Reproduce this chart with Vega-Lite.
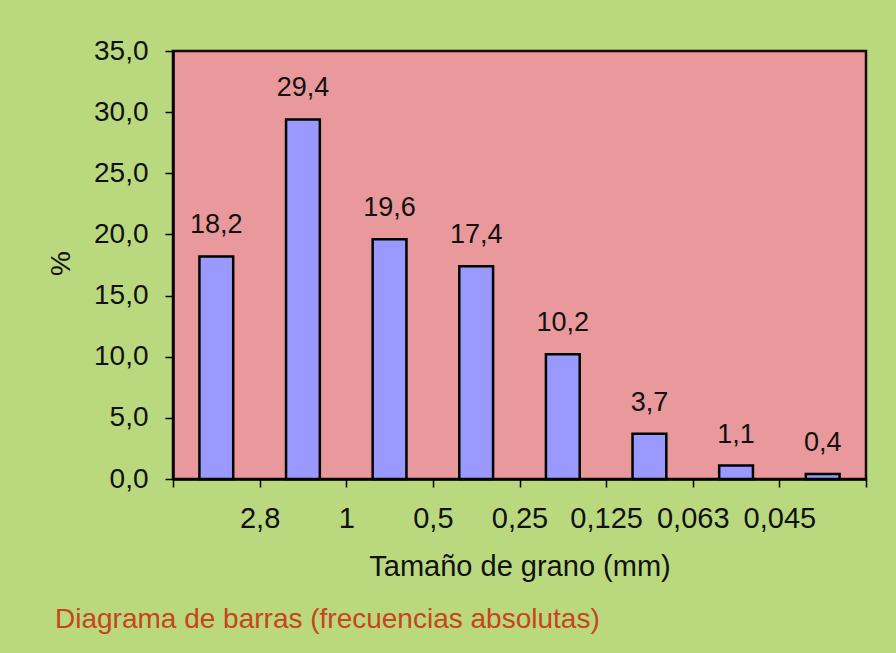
{
  "$schema": "https://vega.github.io/schema/vega-lite/v6.json",
  "width": 693,
  "height": 428,
  "autosize": {"type": "none"},
  "padding": {"left": 173, "top": 51, "right": 30, "bottom": 174},
  "background": "#bad97e",
  "config": {
    "locale": {"number": {"decimal": ",", "thousands": ".", "grouping": [3], "currency": ["", " €"]}},
    "view": {"fill": "#e9999c", "stroke": "#1a0a05", "strokeWidth": 2.5},
    "font": "Liberation Sans"
  },
  "title": {
    "text": "Diagrama de barras (frecuencias absolutas)",
    "orient": "bottom",
    "anchor": "start",
    "frame": "group",
    "dx": -118,
    "offset": 47,
    "fontSize": 28,
    "fontWeight": "normal",
    "color": "#c9441d",
    "baseline": "alphabetic"
  },
  "data": {
    "values": [
      {"tamiz": "2,8", "porcentaje": 18.2},
      {"tamiz": "1", "porcentaje": 29.4},
      {"tamiz": "0,5", "porcentaje": 19.6},
      {"tamiz": "0,25", "porcentaje": 17.4},
      {"tamiz": "0,125", "porcentaje": 10.2},
      {"tamiz": "0,063", "porcentaje": 3.7},
      {"tamiz": "0,045", "porcentaje": 1.1},
      {"tamiz": "<0,045", "porcentaje": 0.4}
    ]
  },
  "encoding": {
    "x": {
      "field": "tamiz",
      "type": "nominal",
      "sort": null,
      "scale": {"paddingInner": 0, "paddingOuter": 0},
      "axis": {
        "title": "Tamaño de grano (mm)",
        "tickBand": "extent",
        "labelOffset": 43.3,
        "labelAngle": 0,
        "labelExpr": "datum.value == '<0,045' ? '' : datum.value",
        "labelFontSize": 29,
        "labelColor": "#111111",
        "labelPadding": 17,
        "labelOverlap": false,
        "labelBound": false,
        "tickSize": 8,
        "tickColor": "#000000",
        "tickWidth": 1.5,
        "domainColor": "#000000",
        "domainWidth": 2.5,
        "titleFontSize": 29,
        "titleFontWeight": "normal",
        "titleColor": "#111111",
        "titleBaseline": "alphabetic",
        "titleY": 96
      }
    },
    "y": {
      "field": "porcentaje",
      "type": "quantitative",
      "scale": {"domain": [0, 35], "nice": false},
      "axis": {
        "title": "%",
        "format": ".1f",
        "values": [0, 5, 10, 15, 20, 25, 30, 35],
        "grid": false,
        "labelFontSize": 28,
        "labelColor": "#111111",
        "labelPadding": 17,
        "tickSize": 8,
        "tickColor": "#000000",
        "tickWidth": 1.5,
        "domainColor": "#000000",
        "domainWidth": 2.5,
        "titleFontSize": 28,
        "titleFontWeight": "normal",
        "titleColor": "#111111",
        "titleAngle": -90,
        "titleBaseline": "middle",
        "titleX": -112,
        "titleY": 212
      }
    }
  },
  "layer": [
    {
      "mark": {"type": "bar", "width": {"band": 0.39}, "fill": "#9999ff", "stroke": "#000000", "strokeWidth": 2.5}
    },
    {
      "mark": {"type": "text", "dy": -23, "baseline": "alphabetic", "fontSize": 27, "color": "#111111"},
      "encoding": {"text": {"field": "porcentaje", "type": "quantitative", "format": ".1f"}}
    }
  ]
}
